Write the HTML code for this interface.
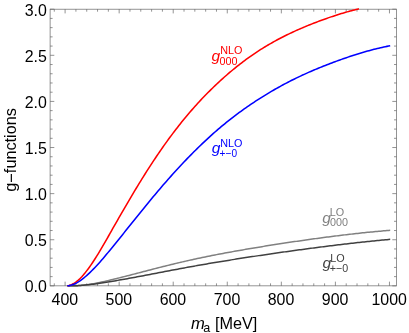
<!DOCTYPE html>
<html><head><meta charset="utf-8"><style>
html,body{margin:0;padding:0;background:#fff;}
svg{display:block;font-family:"Liberation Sans",sans-serif;will-change:transform;}
</style></head><body>
<svg width="409" height="333" viewBox="0 0 409 333">
<rect width="409" height="333" fill="#fff"/>
<g stroke="#666666" stroke-width="0.7" fill="none">
<rect x="50.1" y="9.2" width="346.4" height="276.65000000000003"/>
<line x1="54.29" y1="285.85" x2="54.29" y2="283.35"/><line x1="54.29" y1="9.2" x2="54.29" y2="11.7"/><line x1="65.10" y1="285.85" x2="65.10" y2="281.65000000000003"/><line x1="65.10" y1="9.2" x2="65.10" y2="13.399999999999999"/><line x1="75.91" y1="285.85" x2="75.91" y2="283.35"/><line x1="75.91" y1="9.2" x2="75.91" y2="11.7"/><line x1="86.72" y1="285.85" x2="86.72" y2="283.35"/><line x1="86.72" y1="9.2" x2="86.72" y2="11.7"/><line x1="97.54" y1="285.85" x2="97.54" y2="283.35"/><line x1="97.54" y1="9.2" x2="97.54" y2="11.7"/><line x1="108.35" y1="285.85" x2="108.35" y2="283.35"/><line x1="108.35" y1="9.2" x2="108.35" y2="11.7"/><line x1="119.16" y1="285.85" x2="119.16" y2="281.65000000000003"/><line x1="119.16" y1="9.2" x2="119.16" y2="13.399999999999999"/><line x1="129.97" y1="285.85" x2="129.97" y2="283.35"/><line x1="129.97" y1="9.2" x2="129.97" y2="11.7"/><line x1="140.78" y1="285.85" x2="140.78" y2="283.35"/><line x1="140.78" y1="9.2" x2="140.78" y2="11.7"/><line x1="151.60" y1="285.85" x2="151.60" y2="283.35"/><line x1="151.60" y1="9.2" x2="151.60" y2="11.7"/><line x1="162.41" y1="285.85" x2="162.41" y2="283.35"/><line x1="162.41" y1="9.2" x2="162.41" y2="11.7"/><line x1="173.22" y1="285.85" x2="173.22" y2="281.65000000000003"/><line x1="173.22" y1="9.2" x2="173.22" y2="13.399999999999999"/><line x1="184.03" y1="285.85" x2="184.03" y2="283.35"/><line x1="184.03" y1="9.2" x2="184.03" y2="11.7"/><line x1="194.84" y1="285.85" x2="194.84" y2="283.35"/><line x1="194.84" y1="9.2" x2="194.84" y2="11.7"/><line x1="205.66" y1="285.85" x2="205.66" y2="283.35"/><line x1="205.66" y1="9.2" x2="205.66" y2="11.7"/><line x1="216.47" y1="285.85" x2="216.47" y2="283.35"/><line x1="216.47" y1="9.2" x2="216.47" y2="11.7"/><line x1="227.28" y1="285.85" x2="227.28" y2="281.65000000000003"/><line x1="227.28" y1="9.2" x2="227.28" y2="13.399999999999999"/><line x1="238.09" y1="285.85" x2="238.09" y2="283.35"/><line x1="238.09" y1="9.2" x2="238.09" y2="11.7"/><line x1="248.90" y1="285.85" x2="248.90" y2="283.35"/><line x1="248.90" y1="9.2" x2="248.90" y2="11.7"/><line x1="259.72" y1="285.85" x2="259.72" y2="283.35"/><line x1="259.72" y1="9.2" x2="259.72" y2="11.7"/><line x1="270.53" y1="285.85" x2="270.53" y2="283.35"/><line x1="270.53" y1="9.2" x2="270.53" y2="11.7"/><line x1="281.34" y1="285.85" x2="281.34" y2="281.65000000000003"/><line x1="281.34" y1="9.2" x2="281.34" y2="13.399999999999999"/><line x1="292.15" y1="285.85" x2="292.15" y2="283.35"/><line x1="292.15" y1="9.2" x2="292.15" y2="11.7"/><line x1="302.96" y1="285.85" x2="302.96" y2="283.35"/><line x1="302.96" y1="9.2" x2="302.96" y2="11.7"/><line x1="313.78" y1="285.85" x2="313.78" y2="283.35"/><line x1="313.78" y1="9.2" x2="313.78" y2="11.7"/><line x1="324.59" y1="285.85" x2="324.59" y2="283.35"/><line x1="324.59" y1="9.2" x2="324.59" y2="11.7"/><line x1="335.40" y1="285.85" x2="335.40" y2="281.65000000000003"/><line x1="335.40" y1="9.2" x2="335.40" y2="13.399999999999999"/><line x1="346.21" y1="285.85" x2="346.21" y2="283.35"/><line x1="346.21" y1="9.2" x2="346.21" y2="11.7"/><line x1="357.02" y1="285.85" x2="357.02" y2="283.35"/><line x1="357.02" y1="9.2" x2="357.02" y2="11.7"/><line x1="367.84" y1="285.85" x2="367.84" y2="283.35"/><line x1="367.84" y1="9.2" x2="367.84" y2="11.7"/><line x1="378.65" y1="285.85" x2="378.65" y2="283.35"/><line x1="378.65" y1="9.2" x2="378.65" y2="11.7"/><line x1="389.46" y1="285.85" x2="389.46" y2="281.65000000000003"/><line x1="389.46" y1="9.2" x2="389.46" y2="13.399999999999999"/><line x1="50.1" y1="285.85" x2="54.300000000000004" y2="285.85"/><line x1="396.5" y1="285.85" x2="392.3" y2="285.85"/><line x1="50.1" y1="276.63" x2="52.6" y2="276.63"/><line x1="396.5" y1="276.63" x2="394.0" y2="276.63"/><line x1="50.1" y1="267.41" x2="52.6" y2="267.41"/><line x1="396.5" y1="267.41" x2="394.0" y2="267.41"/><line x1="50.1" y1="258.18" x2="52.6" y2="258.18"/><line x1="396.5" y1="258.18" x2="394.0" y2="258.18"/><line x1="50.1" y1="248.96" x2="52.6" y2="248.96"/><line x1="396.5" y1="248.96" x2="394.0" y2="248.96"/><line x1="50.1" y1="239.74" x2="54.300000000000004" y2="239.74"/><line x1="396.5" y1="239.74" x2="392.3" y2="239.74"/><line x1="50.1" y1="230.52" x2="52.6" y2="230.52"/><line x1="396.5" y1="230.52" x2="394.0" y2="230.52"/><line x1="50.1" y1="221.30" x2="52.6" y2="221.30"/><line x1="396.5" y1="221.30" x2="394.0" y2="221.30"/><line x1="50.1" y1="212.07" x2="52.6" y2="212.07"/><line x1="396.5" y1="212.07" x2="394.0" y2="212.07"/><line x1="50.1" y1="202.85" x2="52.6" y2="202.85"/><line x1="396.5" y1="202.85" x2="394.0" y2="202.85"/><line x1="50.1" y1="193.63" x2="54.300000000000004" y2="193.63"/><line x1="396.5" y1="193.63" x2="392.3" y2="193.63"/><line x1="50.1" y1="184.41" x2="52.6" y2="184.41"/><line x1="396.5" y1="184.41" x2="394.0" y2="184.41"/><line x1="50.1" y1="175.19" x2="52.6" y2="175.19"/><line x1="396.5" y1="175.19" x2="394.0" y2="175.19"/><line x1="50.1" y1="165.96" x2="52.6" y2="165.96"/><line x1="396.5" y1="165.96" x2="394.0" y2="165.96"/><line x1="50.1" y1="156.74" x2="52.6" y2="156.74"/><line x1="396.5" y1="156.74" x2="394.0" y2="156.74"/><line x1="50.1" y1="147.52" x2="54.300000000000004" y2="147.52"/><line x1="396.5" y1="147.52" x2="392.3" y2="147.52"/><line x1="50.1" y1="138.30" x2="52.6" y2="138.30"/><line x1="396.5" y1="138.30" x2="394.0" y2="138.30"/><line x1="50.1" y1="129.08" x2="52.6" y2="129.08"/><line x1="396.5" y1="129.08" x2="394.0" y2="129.08"/><line x1="50.1" y1="119.85" x2="52.6" y2="119.85"/><line x1="396.5" y1="119.85" x2="394.0" y2="119.85"/><line x1="50.1" y1="110.63" x2="52.6" y2="110.63"/><line x1="396.5" y1="110.63" x2="394.0" y2="110.63"/><line x1="50.1" y1="101.41" x2="54.300000000000004" y2="101.41"/><line x1="396.5" y1="101.41" x2="392.3" y2="101.41"/><line x1="50.1" y1="92.19" x2="52.6" y2="92.19"/><line x1="396.5" y1="92.19" x2="394.0" y2="92.19"/><line x1="50.1" y1="82.97" x2="52.6" y2="82.97"/><line x1="396.5" y1="82.97" x2="394.0" y2="82.97"/><line x1="50.1" y1="73.74" x2="52.6" y2="73.74"/><line x1="396.5" y1="73.74" x2="394.0" y2="73.74"/><line x1="50.1" y1="64.52" x2="52.6" y2="64.52"/><line x1="396.5" y1="64.52" x2="394.0" y2="64.52"/><line x1="50.1" y1="55.30" x2="54.300000000000004" y2="55.30"/><line x1="396.5" y1="55.30" x2="392.3" y2="55.30"/><line x1="50.1" y1="46.08" x2="52.6" y2="46.08"/><line x1="396.5" y1="46.08" x2="394.0" y2="46.08"/><line x1="50.1" y1="36.86" x2="52.6" y2="36.86"/><line x1="396.5" y1="36.86" x2="394.0" y2="36.86"/><line x1="50.1" y1="27.63" x2="52.6" y2="27.63"/><line x1="396.5" y1="27.63" x2="394.0" y2="27.63"/><line x1="50.1" y1="18.41" x2="52.6" y2="18.41"/><line x1="396.5" y1="18.41" x2="394.0" y2="18.41"/><line x1="50.1" y1="9.19" x2="54.300000000000004" y2="9.19"/><line x1="396.5" y1="9.19" x2="392.3" y2="9.19"/>
</g>
<g fill="none" stroke-linecap="butt" stroke-linejoin="round">
<path d="M67.40,285.85 L69.02,285.85 L70.64,285.85 L72.27,285.85 L73.89,285.85 L75.51,285.79 L77.13,285.70 L78.75,285.59 L80.38,285.45 L82.00,285.29 L83.62,285.11 L85.24,284.91 L86.87,284.69 L88.49,284.45 L90.11,284.20 L91.73,283.94 L93.35,283.66 L94.98,283.37 L96.60,283.07 L98.22,282.75 L99.84,282.42 L101.46,282.08 L103.09,281.73 L104.71,281.37 L106.33,281.00 L107.95,280.62 L109.57,280.24 L111.20,279.85 L112.82,279.46 L114.44,279.07 L116.06,278.67 L117.69,278.27 L119.31,277.87 L120.93,277.46 L122.55,277.05 L124.17,276.64 L125.80,276.23 L127.42,275.81 L129.04,275.40 L130.66,274.98 L132.28,274.56 L133.91,274.14 L135.53,273.71 L137.15,273.29 L138.77,272.87 L140.39,272.44 L142.02,272.02 L143.64,271.59 L145.26,271.17 L146.88,270.74 L148.51,270.32 L150.13,269.90 L151.75,269.48 L153.37,269.06 L154.99,268.64 L156.62,268.22 L158.24,267.81 L159.86,267.39 L161.48,266.98 L163.10,266.57 L164.73,266.16 L166.35,265.76 L167.97,265.36 L169.59,264.96 L171.22,264.56 L172.84,264.16 L174.46,263.77 L176.08,263.38 L177.70,263.00 L179.33,262.61 L180.95,262.23 L182.57,261.86 L184.19,261.48 L185.81,261.11 L187.44,260.74 L189.06,260.38 L190.68,260.02 L192.30,259.66 L193.92,259.30 L195.55,258.95 L197.17,258.60 L198.79,258.25 L200.41,257.91 L202.04,257.57 L203.66,257.23 L205.28,256.90 L206.90,256.56 L208.52,256.24 L210.15,255.91 L211.77,255.59 L213.39,255.27 L215.01,254.95 L216.63,254.63 L218.26,254.32 L219.88,254.01 L221.50,253.71 L223.12,253.40 L224.74,253.10 L226.37,252.80 L227.99,252.50 L229.61,252.20 L231.23,251.91 L232.86,251.62 L234.48,251.33 L236.10,251.04 L237.72,250.75 L239.34,250.47 L240.97,250.19 L242.59,249.90 L244.21,249.62 L245.83,249.35 L247.45,249.07 L249.08,248.79 L250.70,248.52 L252.32,248.25 L253.94,247.98 L255.56,247.71 L257.19,247.44 L258.81,247.17 L260.43,246.90 L262.05,246.64 L263.68,246.38 L265.30,246.11 L266.92,245.85 L268.54,245.59 L270.16,245.33 L271.79,245.08 L273.41,244.82 L275.03,244.56 L276.65,244.31 L278.27,244.06 L279.90,243.81 L281.52,243.56 L283.14,243.31 L284.76,243.06 L286.38,242.82 L288.01,242.57 L289.63,242.33 L291.25,242.09 L292.87,241.85 L294.50,241.61 L296.12,241.37 L297.74,241.14 L299.36,240.90 L300.98,240.67 L302.61,240.43 L304.23,240.20 L305.85,239.97 L307.47,239.75 L309.09,239.52 L310.72,239.29 L312.34,239.07 L313.96,238.85 L315.58,238.62 L317.21,238.40 L318.83,238.18 L320.45,237.97 L322.07,237.75 L323.69,237.54 L325.32,237.32 L326.94,237.11 L328.56,236.90 L330.18,236.69 L331.80,236.48 L333.43,236.28 L335.05,236.07 L336.67,235.87 L338.29,235.67 L339.91,235.47 L341.54,235.27 L343.16,235.07 L344.78,234.88 L346.40,234.69 L348.03,234.50 L349.65,234.31 L351.27,234.12 L352.89,233.94 L354.51,233.75 L356.14,233.57 L357.76,233.39 L359.38,233.22 L361.00,233.04 L362.62,232.87 L364.25,232.70 L365.87,232.54 L367.49,232.37 L369.11,232.21 L370.73,232.05 L372.36,231.90 L373.98,231.74 L375.60,231.59 L377.22,231.44 L378.85,231.29 L380.47,231.15 L382.09,231.01 L383.71,230.87 L385.33,230.73 L386.96,230.60 L388.58,230.47 L390.20,230.34" stroke="#808080" stroke-width="1.5"/>
<path d="M67.40,285.85 L69.02,285.85 L70.64,285.84 L72.27,285.82 L73.89,285.77 L75.51,285.71 L77.13,285.64 L78.75,285.54 L80.38,285.44 L82.00,285.32 L83.62,285.18 L85.24,285.03 L86.87,284.87 L88.49,284.70 L90.11,284.53 L91.73,284.34 L93.35,284.14 L94.98,283.94 L96.60,283.72 L98.22,283.50 L99.84,283.27 L101.46,283.03 L103.09,282.79 L104.71,282.54 L106.33,282.28 L107.95,282.02 L109.57,281.75 L111.20,281.48 L112.82,281.21 L114.44,280.94 L116.06,280.66 L117.69,280.38 L119.31,280.10 L120.93,279.81 L122.55,279.53 L124.17,279.24 L125.80,278.95 L127.42,278.65 L129.04,278.36 L130.66,278.06 L132.28,277.76 L133.91,277.46 L135.53,277.16 L137.15,276.86 L138.77,276.55 L140.39,276.25 L142.02,275.94 L143.64,275.64 L145.26,275.33 L146.88,275.02 L148.51,274.71 L150.13,274.40 L151.75,274.09 L153.37,273.78 L154.99,273.47 L156.62,273.16 L158.24,272.84 L159.86,272.53 L161.48,272.22 L163.10,271.91 L164.73,271.60 L166.35,271.29 L167.97,270.98 L169.59,270.67 L171.22,270.36 L172.84,270.06 L174.46,269.75 L176.08,269.44 L177.70,269.14 L179.33,268.84 L180.95,268.53 L182.57,268.23 L184.19,267.93 L185.81,267.63 L187.44,267.34 L189.06,267.04 L190.68,266.75 L192.30,266.45 L193.92,266.16 L195.55,265.87 L197.17,265.58 L198.79,265.30 L200.41,265.01 L202.04,264.73 L203.66,264.45 L205.28,264.17 L206.90,263.89 L208.52,263.61 L210.15,263.33 L211.77,263.06 L213.39,262.79 L215.01,262.52 L216.63,262.25 L218.26,261.98 L219.88,261.71 L221.50,261.45 L223.12,261.18 L224.74,260.92 L226.37,260.66 L227.99,260.40 L229.61,260.14 L231.23,259.88 L232.86,259.62 L234.48,259.37 L236.10,259.11 L237.72,258.86 L239.34,258.60 L240.97,258.35 L242.59,258.10 L244.21,257.85 L245.83,257.60 L247.45,257.35 L249.08,257.10 L250.70,256.86 L252.32,256.61 L253.94,256.37 L255.56,256.12 L257.19,255.88 L258.81,255.63 L260.43,255.39 L262.05,255.15 L263.68,254.91 L265.30,254.67 L266.92,254.43 L268.54,254.20 L270.16,253.96 L271.79,253.72 L273.41,253.49 L275.03,253.25 L276.65,253.02 L278.27,252.79 L279.90,252.56 L281.52,252.33 L283.14,252.10 L284.76,251.87 L286.38,251.64 L288.01,251.42 L289.63,251.19 L291.25,250.97 L292.87,250.74 L294.50,250.52 L296.12,250.30 L297.74,250.08 L299.36,249.86 L300.98,249.64 L302.61,249.42 L304.23,249.20 L305.85,248.98 L307.47,248.77 L309.09,248.55 L310.72,248.34 L312.34,248.13 L313.96,247.92 L315.58,247.70 L317.21,247.49 L318.83,247.28 L320.45,247.08 L322.07,246.87 L323.69,246.66 L325.32,246.46 L326.94,246.25 L328.56,246.05 L330.18,245.85 L331.80,245.65 L333.43,245.45 L335.05,245.25 L336.67,245.05 L338.29,244.85 L339.91,244.66 L341.54,244.46 L343.16,244.27 L344.78,244.08 L346.40,243.89 L348.03,243.70 L349.65,243.51 L351.27,243.33 L352.89,243.14 L354.51,242.96 L356.14,242.78 L357.76,242.60 L359.38,242.42 L361.00,242.25 L362.62,242.07 L364.25,241.90 L365.87,241.73 L367.49,241.55 L369.11,241.39 L370.73,241.22 L372.36,241.05 L373.98,240.89 L375.60,240.73 L377.22,240.57 L378.85,240.41 L380.47,240.25 L382.09,240.10 L383.71,239.94 L385.33,239.79 L386.96,239.64 L388.58,239.49 L390.20,239.35" stroke="#404040" stroke-width="1.5"/>
<path d="M67.40,285.85 L68.86,285.55 L70.33,285.11 L71.79,284.52 L73.26,283.79 L74.72,282.91 L76.19,281.89 L77.65,280.73 L79.12,279.44 L80.58,278.01 L82.05,276.46 L83.51,274.78 L84.98,273.00 L86.44,271.12 L87.91,269.17 L89.37,267.17 L90.84,265.09 L92.30,262.96 L93.77,260.76 L95.23,258.50 L96.70,256.18 L98.16,253.82 L99.63,251.41 L101.09,248.96 L102.56,246.47 L104.02,243.95 L105.49,241.40 L106.95,238.84 L108.42,236.25 L109.88,233.66 L111.34,231.07 L112.81,228.49 L114.27,225.91 L115.74,223.34 L117.20,220.77 L118.67,218.21 L120.13,215.66 L121.60,213.11 L123.06,210.57 L124.53,208.05 L125.99,205.53 L127.46,203.02 L128.92,200.53 L130.39,198.04 L131.85,195.57 L133.32,193.12 L134.78,190.67 L136.25,188.24 L137.71,185.83 L139.18,183.43 L140.64,181.05 L142.11,178.68 L143.57,176.33 L145.04,174.00 L146.50,171.69 L147.97,169.39 L149.43,167.11 L150.89,164.86 L152.36,162.62 L153.82,160.40 L155.29,158.20 L156.75,156.02 L158.22,153.86 L159.68,151.72 L161.15,149.60 L162.61,147.50 L164.08,145.42 L165.54,143.37 L167.01,141.33 L168.47,139.31 L169.94,137.32 L171.40,135.35 L172.87,133.39 L174.33,131.46 L175.80,129.55 L177.26,127.66 L178.73,125.79 L180.19,123.94 L181.66,122.11 L183.12,120.31 L184.59,118.52 L186.05,116.75 L187.52,115.00 L188.98,113.27 L190.45,111.57 L191.91,109.88 L193.37,108.21 L194.84,106.56 L196.30,104.93 L197.77,103.32 L199.23,101.72 L200.70,100.15 L202.16,98.59 L203.63,97.05 L205.09,95.53 L206.56,94.03 L208.02,92.55 L209.49,91.08 L210.95,89.63 L212.42,88.19 L213.88,86.77 L215.35,85.37 L216.81,83.98 L218.28,82.61 L219.74,81.26 L221.21,79.92 L222.67,78.60 L224.14,77.29 L225.60,76.00 L227.07,74.72 L228.53,73.46 L230.00,72.21 L231.46,70.98 L232.93,69.77 L234.39,68.56 L235.85,67.38 L237.32,66.20 L238.78,65.05 L240.25,63.91 L241.71,62.78 L243.18,61.67 L244.64,60.57 L246.11,59.49 L247.57,58.42 L249.04,57.37 L250.50,56.33 L251.97,55.30 L253.43,54.30 L254.90,53.30 L256.36,52.32 L257.83,51.36 L259.29,50.41 L260.76,49.47 L262.22,48.55 L263.69,47.64 L265.15,46.74 L266.62,45.86 L268.08,44.99 L269.55,44.14 L271.01,43.30 L272.48,42.47 L273.94,41.65 L275.41,40.84 L276.87,40.05 L278.33,39.27 L279.80,38.49 L281.26,37.73 L282.73,36.98 L284.19,36.24 L285.66,35.51 L287.12,34.79 L288.59,34.08 L290.05,33.38 L291.52,32.69 L292.98,32.01 L294.45,31.34 L295.91,30.67 L297.38,30.02 L298.84,29.37 L300.31,28.73 L301.77,28.10 L303.24,27.47 L304.70,26.85 L306.17,26.24 L307.63,25.64 L309.10,25.05 L310.56,24.46 L312.03,23.87 L313.49,23.30 L314.96,22.73 L316.42,22.17 L317.88,21.61 L319.35,21.06 L320.81,20.51 L322.28,19.98 L323.74,19.45 L325.21,18.92 L326.67,18.40 L328.14,17.89 L329.60,17.39 L331.07,16.89 L332.53,16.40 L334.00,15.91 L335.46,15.43 L336.93,14.96 L338.39,14.50 L339.86,14.05 L341.32,13.60 L342.79,13.16 L344.25,12.72 L345.72,12.30 L347.18,11.88 L348.65,11.46 L350.11,11.06 L351.58,10.66 L353.04,10.27 L354.51,9.89 L355.97,9.52 L357.44,9.15 L358.90,8.79" stroke="#ff0000" stroke-width="1.55"/>
<path d="M67.40,285.85 L69.02,285.62 L70.64,285.26 L72.27,284.78 L73.89,284.18 L75.51,283.45 L77.13,282.61 L78.75,281.65 L80.38,280.57 L82.00,279.40 L83.62,278.13 L85.24,276.77 L86.87,275.34 L88.49,273.86 L90.11,272.34 L91.73,270.76 L93.35,269.13 L94.98,267.45 L96.60,265.72 L98.22,263.96 L99.84,262.15 L101.46,260.31 L103.09,258.43 L104.71,256.52 L106.33,254.59 L107.95,252.63 L109.57,250.65 L111.20,248.67 L112.82,246.68 L114.44,244.69 L116.06,242.69 L117.69,240.68 L119.31,238.67 L120.93,236.66 L122.55,234.65 L124.17,232.63 L125.80,230.61 L127.42,228.58 L129.04,226.56 L130.66,224.54 L132.28,222.52 L133.91,220.50 L135.53,218.48 L137.15,216.46 L138.77,214.45 L140.39,212.44 L142.02,210.44 L143.64,208.44 L145.26,206.45 L146.88,204.46 L148.51,202.49 L150.13,200.52 L151.75,198.56 L153.37,196.61 L154.99,194.67 L156.62,192.74 L158.24,190.82 L159.86,188.91 L161.48,187.01 L163.10,185.12 L164.73,183.25 L166.35,181.39 L167.97,179.54 L169.59,177.71 L171.22,175.89 L172.84,174.08 L174.46,172.28 L176.08,170.50 L177.70,168.73 L179.33,166.98 L180.95,165.24 L182.57,163.51 L184.19,161.80 L185.81,160.10 L187.44,158.41 L189.06,156.74 L190.68,155.09 L192.30,153.44 L193.92,151.81 L195.55,150.20 L197.17,148.60 L198.79,147.02 L200.41,145.45 L202.04,143.89 L203.66,142.35 L205.28,140.83 L206.90,139.32 L208.52,137.83 L210.15,136.35 L211.77,134.89 L213.39,133.44 L215.01,132.01 L216.63,130.60 L218.26,129.20 L219.88,127.82 L221.50,126.46 L223.12,125.11 L224.74,123.78 L226.37,122.46 L227.99,121.16 L229.61,119.87 L231.23,118.60 L232.86,117.35 L234.48,116.11 L236.10,114.88 L237.72,113.67 L239.34,112.47 L240.97,111.29 L242.59,110.12 L244.21,108.96 L245.83,107.82 L247.45,106.69 L249.08,105.57 L250.70,104.46 L252.32,103.37 L253.94,102.29 L255.56,101.22 L257.19,100.16 L258.81,99.12 L260.43,98.08 L262.05,97.06 L263.68,96.05 L265.30,95.05 L266.92,94.06 L268.54,93.08 L270.16,92.12 L271.79,91.16 L273.41,90.22 L275.03,89.29 L276.65,88.37 L278.27,87.46 L279.90,86.56 L281.52,85.67 L283.14,84.79 L284.76,83.92 L286.38,83.07 L288.01,82.22 L289.63,81.38 L291.25,80.56 L292.87,79.74 L294.50,78.94 L296.12,78.15 L297.74,77.36 L299.36,76.59 L300.98,75.83 L302.61,75.07 L304.23,74.33 L305.85,73.59 L307.47,72.87 L309.09,72.15 L310.72,71.44 L312.34,70.74 L313.96,70.05 L315.58,69.37 L317.21,68.69 L318.83,68.03 L320.45,67.36 L322.07,66.71 L323.69,66.06 L325.32,65.42 L326.94,64.79 L328.56,64.16 L330.18,63.54 L331.80,62.93 L333.43,62.32 L335.05,61.72 L336.67,61.12 L338.29,60.53 L339.91,59.95 L341.54,59.37 L343.16,58.80 L344.78,58.23 L346.40,57.67 L348.03,57.12 L349.65,56.57 L351.27,56.03 L352.89,55.50 L354.51,54.97 L356.14,54.46 L357.76,53.95 L359.38,53.45 L361.00,52.96 L362.62,52.47 L364.25,52.00 L365.87,51.53 L367.49,51.08 L369.11,50.63 L370.73,50.19 L372.36,49.77 L373.98,49.35 L375.60,48.94 L377.22,48.55 L378.85,48.16 L380.47,47.79 L382.09,47.42 L383.71,47.06 L385.33,46.72 L386.96,46.38 L388.58,46.06 L390.20,45.74" stroke="#0000ff" stroke-width="1.55"/>
</g>
<g fill="#000"><text transform="translate(64.80,305.20) scale(0.96,1)" font-size="16.6" text-anchor="middle">400</text><text transform="translate(118.86,305.20) scale(0.96,1)" font-size="16.6" text-anchor="middle">500</text><text transform="translate(172.92,305.20) scale(0.96,1)" font-size="16.6" text-anchor="middle">600</text><text transform="translate(226.98,305.20) scale(0.96,1)" font-size="16.6" text-anchor="middle">700</text><text transform="translate(281.04,305.20) scale(0.96,1)" font-size="16.6" text-anchor="middle">800</text><text transform="translate(335.10,305.20) scale(0.96,1)" font-size="16.6" text-anchor="middle">900</text><text transform="translate(389.16,305.20) scale(0.96,1)" font-size="16.6" text-anchor="middle">1000</text><text transform="translate(46.90,292.35) scale(0.96,1)" font-size="16.6" text-anchor="end">0.0</text><text transform="translate(46.90,246.24) scale(0.96,1)" font-size="16.6" text-anchor="end">0.5</text><text transform="translate(46.90,200.13) scale(0.96,1)" font-size="16.6" text-anchor="end">1.0</text><text transform="translate(46.90,154.02) scale(0.96,1)" font-size="16.6" text-anchor="end">1.5</text><text transform="translate(46.90,107.91) scale(0.96,1)" font-size="16.6" text-anchor="end">2.0</text><text transform="translate(46.90,61.80) scale(0.96,1)" font-size="16.6" text-anchor="end">2.5</text><text transform="translate(46.90,15.69) scale(0.96,1)" font-size="16.6" text-anchor="end">3.0</text>
<text transform="translate(190.90,329.20) scale(0.975,1)" font-size="17" font-style="italic">m</text><text transform="translate(203.20,331.60) scale(0.97,1)" font-size="13">a</text><text transform="translate(214.90,329.20) scale(0.98,1)" font-size="16.6">[MeV]</text>
<text transform="translate(15.60,191.70) rotate(-90) scale(0.958,1)" font-size="17">g<tspan dy="1.5">−</tspan><tspan dy="-1.5">functions</tspan></text>
</g>
<text transform="translate(211.60,61.00) scale(1.0,1)" font-size="15.5" font-style="italic" fill="#ff0000">g</text><text transform="translate(220.20,54.00) scale(1.05,1)" font-size="10.3" fill="#ff0000">NLO</text><text transform="translate(219.60,64.60) scale(0.94,1)" font-size="11.5" fill="#ff0000">000</text>
<text transform="translate(211.80,152.60) scale(1.0,1)" font-size="15.5" font-style="italic" fill="#0000ff">g</text><text transform="translate(220.20,146.60) scale(1.05,1)" font-size="10.3" fill="#0000ff">NLO</text><text transform="translate(219.60,157.20) scale(0.88,1)" font-size="11.5" fill="#0000ff">+−0</text>
<text transform="translate(322.30,222.60) scale(1.0,1)" font-size="15.5" font-style="italic" fill="#808080">g</text><text transform="translate(329.80,215.80) scale(1.05,1)" font-size="10.3" fill="#808080">LO</text><text transform="translate(330.00,225.70) scale(0.94,1)" font-size="11.5" fill="#808080">000</text>
<text transform="translate(322.40,268.30) scale(1.0,1)" font-size="15.5" font-style="italic" fill="#404040">g</text><text transform="translate(330.20,261.80) scale(1.05,1)" font-size="10.3" fill="#404040">LO</text><text transform="translate(329.70,271.90) scale(0.93,1)" font-size="11.5" fill="#404040">+−0</text>
</svg></body></html>
